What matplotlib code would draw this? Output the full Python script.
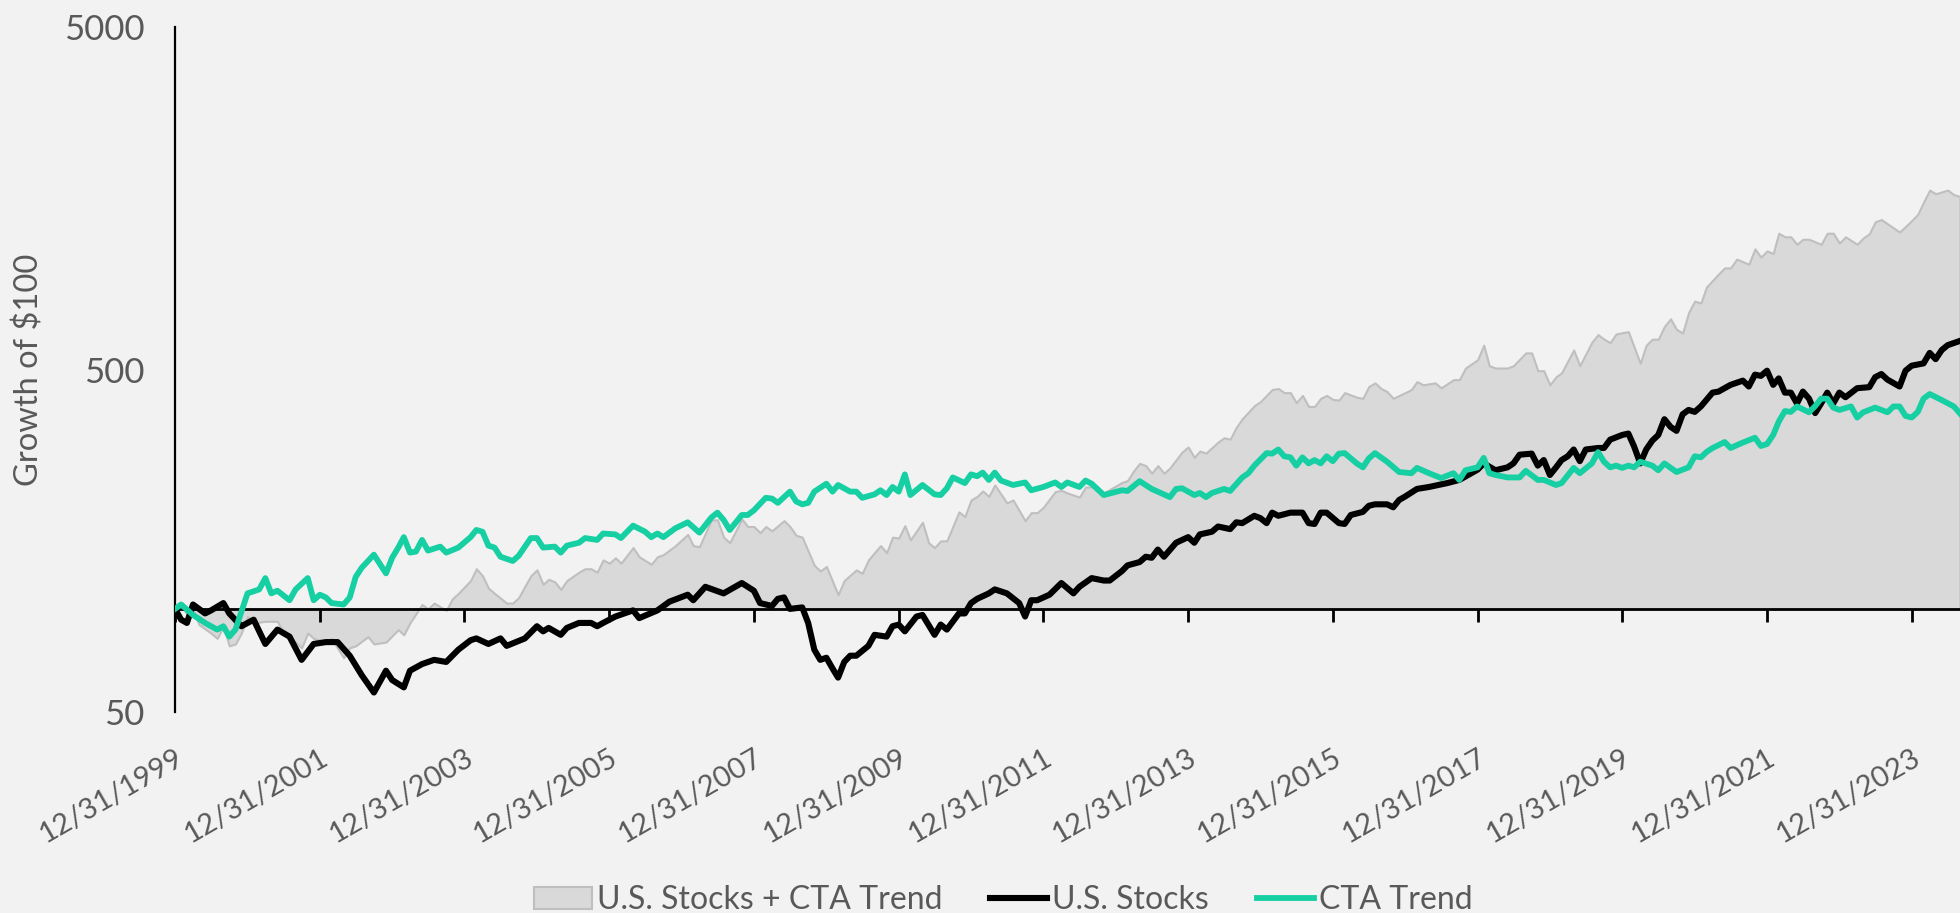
import matplotlib.pyplot as plt
import numpy as np
import pandas as pd
from matplotlib.lines import Line2D
from matplotlib.patches import Patch

plt.rcParams['font.family'] = ['Lato', 'DejaVu Sans']

# (month index since 12/31/1999, growth of $100)
us_stocks = [
    (0, 100), (1, 93), (2, 91), (3, 103), (5, 97), (6, 99), (8, 104), (9, 97), (11, 89), (13, 93),
    (15, 79), (17, 87), (19, 83), (21, 71), (23, 79), (25, 80), (27, 80), (29, 73), (31, 64), (33, 57),
    (35, 66), (36, 62), (38, 59), (39, 66), (41, 69), (43, 71), (45, 70), (47, 76), (49, 81), (50, 82),
    (52, 79), (54, 82), (55, 78), (58, 82), (60, 89), (61, 86), (62, 88), (64, 84), (65, 88), (67, 91),
    (69, 91), (70, 89), (71, 91), (73, 95), (76, 99), (77, 94), (80, 99), (82, 105), (85, 110), (86, 106),
    (88, 116), (91, 111), (94, 119), (96, 113), (97, 104), (99, 102), (100, 107), (101, 108), (102, 100),
    (104, 101), (105, 91), (106, 76), (107, 71), (108, 72), (109, 67), (110, 63), (111, 70), (112, 73),
    (113, 73), (115, 78), (116, 84), (118, 83), (119, 89), (120, 90), (121, 86), (123, 95), (124, 96),
    (126, 84), (127, 90), (128, 87), (130, 97), (131, 97), (132, 104), (133, 107), (135, 111), (136, 114),
    (138, 111), (140, 104), (141, 95), (142, 106), (143, 106), (145, 110), (147, 119), (148, 115),
    (149, 111), (150, 116), (152, 123), (154, 121), (155, 121), (157, 129), (158, 134), (160, 137),
    (161, 142), (162, 141), (163, 149), (164, 142), (166, 156), (168, 162), (169, 156), (170, 165),
    (172, 168), (173, 174), (175, 171), (176, 179), (177, 178), (179, 187), (180, 184), (181, 178),
    (182, 191), (183, 187), (185, 191), (187, 191), (188, 178), (189, 177), (190, 191), (191, 191),
    (193, 178), (194, 177), (195, 188), (197, 192), (198, 200), (199, 202), (201, 202), (202, 198),
    (203, 208), (204, 213), (206, 224), (208, 227), (211, 233), (213, 238), (215, 249), (216, 255),
    (217, 266), (219, 254), (221, 259), (222, 266), (223, 282), (225, 284), (226, 262), (227, 272),
    (228, 246), (229, 259), (230, 272), (231, 279), (232, 292), (233, 270), (234, 292), (236, 295),
    (237, 295), (238, 312), (240, 322), (241, 325), (242, 298), (243, 266), (244, 292), (245, 310),
    (246, 322), (247, 358), (248, 340), (249, 331), (250, 370), (251, 381), (252, 376), (253, 390),
    (255, 428), (256, 431), (258, 451), (260, 464), (261, 446), (262, 483), (263, 479), (264, 496),
    (265, 451), (266, 471), (267, 428), (268, 428), (269, 398), (270, 431), (271, 411), (272, 373),
    (273, 398), (274, 428), (275, 398), (276, 428), (277, 415), (279, 441), (281, 444), (282, 475),
    (283, 485), (284, 467), (286, 446), (287, 496), (288, 513), (290, 521), (291, 559), (292, 536),
    (293, 570), (294, 589), (296, 606),
]

cta_trend = [
    (0, 100), (1, 103), (3, 96), (5, 91), (7, 87), (8, 89), (9, 83), (10, 87), (12, 111), (14, 114),
    (15, 123), (16, 111), (17, 113), (19, 106), (20, 114), (22, 123), (23, 106), (24, 110), (25, 108),
    (26, 104), (28, 103), (29, 108), (30, 124), (31, 132), (33, 144), (35, 127), (36, 141), (37, 151),
    (38, 162), (39, 146), (40, 147), (41, 159), (42, 148), (44, 152), (45, 146), (47, 151), (49, 162),
    (50, 170), (51, 168), (52, 153), (53, 151), (54, 142), (56, 138), (57, 143), (59, 161), (60, 161),
    (61, 151), (63, 152), (64, 146), (65, 153), (67, 156), (68, 161), (70, 159), (71, 166), (73, 165),
    (74, 161), (76, 175), (78, 168), (79, 162), (80, 166), (81, 162), (83, 172), (85, 179), (87, 167),
    (89, 185), (90, 191), (91, 182), (92, 170), (94, 188), (95, 188), (96, 194), (98, 211), (99, 210),
    (100, 204), (102, 220), (103, 206), (104, 202), (105, 204), (106, 220), (108, 232), (109, 220),
    (110, 230), (112, 220), (113, 220), (114, 211), (116, 216), (117, 222), (118, 215), (119, 227),
    (120, 220), (121, 247), (122, 215), (124, 230), (126, 216), (127, 215), (128, 225), (129, 242),
    (131, 233), (132, 247), (133, 244), (134, 250), (135, 238), (136, 250), (137, 237), (139, 230),
    (141, 234), (142, 222), (144, 227), (146, 234), (147, 227), (148, 234), (150, 227), (151, 237),
    (152, 232), (154, 215), (157, 222), (158, 221), (160, 236), (162, 224), (165, 212), (166, 224),
    (167, 225), (169, 215), (170, 218), (171, 212), (172, 218), (174, 224), (175, 221), (177, 242),
    (178, 249), (179, 262), (181, 285), (182, 284), (183, 292), (184, 279), (185, 277), (186, 262),
    (187, 277), (188, 266), (189, 272), (190, 266), (191, 279), (192, 270), (193, 284), (194, 285),
    (196, 266), (197, 259), (198, 275), (199, 285), (201, 269), (203, 251), (205, 249), (206, 258),
    (208, 249), (210, 241), (212, 249), (213, 238), (214, 254), (216, 259), (217, 276), (218, 249),
    (219, 246), (221, 242), (223, 242), (224, 253), (226, 238), (227, 238), (229, 230), (230, 233),
    (232, 258), (233, 249), (235, 266), (236, 287), (237, 269), (238, 259), (239, 262), (240, 258),
    (241, 262), (242, 259), (243, 269), (245, 262), (246, 254), (247, 266), (249, 251), (251, 259),
    (252, 279), (253, 277), (254, 287), (255, 295), (257, 307), (258, 295), (260, 306), (262, 316),
    (263, 299), (264, 303), (265, 322), (266, 352), (267, 378), (268, 376), (269, 390), (271, 375),
    (272, 391), (273, 411), (274, 411), (275, 387), (276, 381), (278, 390), (279, 362), (280, 375),
    (282, 387), (284, 375), (285, 390), (286, 390), (287, 366), (288, 362), (289, 376), (290, 411),
    (291, 424), (293, 407), (295, 390), (296, 372),
]

stocks_plus_cta = [
    (0, 100), (1, 101), (2, 97), (3, 100), (4, 90), (6, 85), (7, 82), (8, 89), (9, 78), (10, 79),
    (11, 85), (12, 95), (13, 91), (15, 92), (17, 92), (18, 85), (20, 80), (21, 77), (22, 85), (23, 82),
    (25, 80), (26, 82), (28, 72), (29, 77), (30, 78), (32, 83), (33, 79), (35, 80), (37, 87), (38, 84),
    (39, 91), (41, 103), (42, 100), (43, 104), (45, 99), (46, 107), (47, 111), (49, 121), (50, 131),
    (51, 125), (52, 115), (53, 111), (55, 104), (56, 104), (57, 108), (59, 125), (60, 130), (61, 118),
    (62, 122), (63, 120), (64, 114), (65, 121), (67, 128), (68, 131), (69, 131), (70, 128), (71, 139),
    (72, 136), (73, 141), (74, 136), (76, 151), (77, 142), (79, 135), (80, 142), (81, 144), (83, 153),
    (85, 165), (86, 153), (87, 152), (89, 182), (90, 182), (91, 162), (92, 156), (94, 183), (95, 174),
    (96, 174), (97, 167), (98, 174), (99, 169), (101, 181), (102, 174), (103, 164), (104, 162),
    (106, 134), (107, 129), (108, 133), (110, 110), (111, 121), (113, 130), (114, 127), (115, 139),
    (116, 146), (117, 153), (118, 146), (119, 162), (120, 161), (121, 175), (122, 159), (124, 179),
    (125, 156), (126, 151), (127, 158), (128, 158), (130, 192), (131, 186), (132, 208), (133, 213),
    (134, 221), (135, 213), (136, 230), (138, 204), (139, 208), (141, 181), (142, 191), (143, 191),
    (144, 198), (146, 220), (147, 222), (148, 218), (150, 212), (151, 227), (153, 227), (154, 218),
    (157, 234), (158, 237), (159, 253), (160, 266), (161, 262), (162, 249), (163, 262), (164, 249),
    (165, 258), (167, 287), (168, 297), (169, 277), (170, 289), (171, 285), (173, 307), (174, 316),
    (175, 313), (176, 339), (177, 359), (179, 392), (180, 403), (182, 437), (183, 440), (184, 428),
    (185, 428), (186, 400), (187, 420), (188, 390), (189, 390), (190, 412), (191, 420), (192, 409),
    (193, 407), (194, 428), (196, 415), (197, 412), (198, 446), (199, 457), (200, 440), (201, 431),
    (202, 412), (204, 428), (205, 437), (206, 461), (207, 451), (209, 457), (210, 442), (212, 467),
    (213, 467), (214, 505), (216, 534), (217, 589), (218, 513), (219, 505), (221, 505), (222, 513),
    (224, 559), (225, 559), (226, 496), (227, 496), (228, 451), (229, 476), (230, 489), (232, 570),
    (233, 513), (235, 601), (236, 632), (237, 613), (238, 599), (239, 635), (241, 645), (243, 521),
    (244, 589), (245, 613), (246, 613), (247, 668), (248, 703), (249, 655), (250, 639), (251, 733),
    (252, 792), (253, 782), (254, 870), (256, 950), (257, 990), (258, 990), (259, 1050), (261, 1015),
    (262, 1125), (263, 1064), (264, 1110), (265, 1090), (266, 1250), (267, 1220), (268, 1220),
    (269, 1160), (270, 1200), (271, 1200), (273, 1160), (274, 1250), (275, 1250), (276, 1170),
    (277, 1220), (279, 1160), (280, 1210), (281, 1245), (282, 1350), (283, 1370), (286, 1260),
    (288, 1360), (289, 1420), (290, 1540), (291, 1670), (292, 1630), (294, 1670), (295, 1620),
    (296, 1600),
]

labels = ['U.S. Stocks + CTA Trend', 'U.S. Stocks', 'CTA Trend']
y_ticks = [50, 500, 5000]

BG = '#f2f2f2'
GREY = '#595959'
TEAL = '#16cfa3'
FILL = '#d9d9d9'
EDGE = '#bfbfbf'

month_ends = pd.date_range('1999-12-31', periods=297, freq='ME')
tick_dates = pd.date_range('1999-12-31', '2023-12-31', freq='2YE-DEC')


def unpack(pairs):
    m, v = zip(*pairs)
    return month_ends[list(m)], np.array(v, dtype=float)


combo_x, combo_y = unpack(stocks_plus_cta)
stocks_x, stocks_y = unpack(us_stocks)
cta_x, cta_y = unpack(cta_trend)

fig = plt.figure(figsize=(19.6, 9.13), dpi=100, facecolor=BG)
ax = fig.add_axes([175 / 1960, 201 / 913, 1785 / 1960, 685 / 913])
ax.set_facecolor(BG)

ax.fill_between(combo_x, combo_y, 100, facecolor=FILL, edgecolor=EDGE, linewidth=1.5, zorder=1)
ax.plot(stocks_x, stocks_y, color='black', lw=4.4, zorder=3)
ax.plot(cta_x, cta_y, color=TEAL, lw=4.2, zorder=4)

ax.set_yscale('log')
ax.set_ylim(50, 5000)
ax.set_xlim(month_ends[0], month_ends[-1])
ax.set_yticks(y_ticks, [str(v) for v in y_ticks])
ax.minorticks_off()
ax.tick_params(axis='y', length=0, pad=22, labelsize=25, labelcolor=GREY)

for s in ['top', 'right']:
    ax.spines[s].set_visible(False)
ax.spines['left'].set_linewidth(1.6)
ax.spines['bottom'].set_position(('data', 100))
ax.spines['bottom'].set_linewidth(2)
ax.spines['bottom'].set_zorder(2.5)

# x labels sit below the plot, tick marks hang off the 100 line
frac = np.log10(100 / 50) / np.log10(5000 / 50)
tick_len = 9
pad = (frac * 685 + 32) * 72 / 100 - tick_len
ax.set_xticks(tick_dates, [d.strftime('%m/%d/%Y') for d in tick_dates])
ax.tick_params(axis='x', direction='out', length=tick_len, width=2, pad=pad,
               labelsize=21, labelcolor=GREY)
for t in ax.get_xticklabels():
    t.set_rotation(30)
    t.set_ha('right')
    t.set_rotation_mode('anchor')

ax.set_ylabel(r'Growth of \$100', fontsize=23.5, color=GREY)
ax.yaxis.set_label_coords(-0.073, 0.5)

handles = [Patch(facecolor=FILL, edgecolor=EDGE, linewidth=1.5),
           Line2D([], [], color='black', lw=4.4),
           Line2D([], [], color=TEAL, lw=4.2)]
fig.legend(handles, labels, loc='lower center', bbox_to_anchor=(0.512, -0.034), ncol=3,
           frameon=False, fontsize=23, labelcolor=GREY, handlelength=1.8,
           handletextpad=0.15, columnspacing=1.5)

fig.savefig('out.png', dpi=100, facecolor=BG)
